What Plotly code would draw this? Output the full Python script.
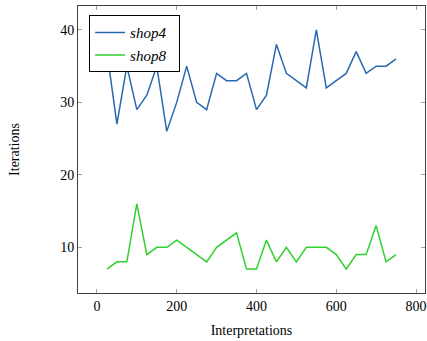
import plotly.graph_objects as go

interpretations = [25, 50, 75, 100, 125, 150, 175, 200, 225, 250, 275, 300, 325, 350, 375,
                   400, 425, 450, 475, 500, 525, 550, 575, 600, 625, 650, 675, 700, 725, 750]
shop4 = [37, 27, 35, 29, 31, 35, 26, 30, 35, 30, 29, 34, 33, 33, 34,
         29, 31, 38, 34, 33, 32, 40, 32, 33, 34, 37, 34, 35, 35, 36]
shop8 = [7, 8, 8, 16, 9, 10, 10, 11, 10, 9, 8, 10, 11, 12, 7,
         7, 11, 8, 10, 8, 10, 10, 10, 9, 7, 9, 9, 13, 8, 9]
x_ticks = [0, 200, 400, 600, 800]
y_ticks = [10, 20, 30, 40]

font = "Liberation Serif, DejaVu Serif, serif"

fig = go.Figure()
fig.add_trace(go.Scatter(x=interpretations, y=shop4, mode="lines", name="<i>shop4</i>&nbsp;&nbsp;",
                         line=dict(color="#2a68b0", width=1.5)))
fig.add_trace(go.Scatter(x=interpretations, y=shop8, mode="lines", name="<i>shop8</i>&nbsp;&nbsp;",
                         line=dict(color="#2ed12e", width=1.5)))

axis_common = dict(showgrid=False, zeroline=False, showline=True, linecolor="#404040",
                   linewidth=1, mirror="ticks", ticks="inside", ticklen=4,
                   tickcolor="#a0a0a0", tickfont=dict(family=font, size=14, color="black"))

fig.update_layout(
    width=427, height=341,
    margin=dict(l=78, r=2, t=6, b=48),
    plot_bgcolor="white", paper_bgcolor="white",
    font=dict(family=font, size=14, color="black"),
    xaxis=dict(range=[-47.5, 822.5], tickvals=x_ticks, automargin=False,
               title=dict(text="Interpretations", font=dict(family=font, size=14), standoff=12),
               **axis_common),
    yaxis=dict(range=[3.7, 43.3], tickvals=y_ticks, automargin=False,
               title=dict(text="Iterations", font=dict(family=font, size=14), standoff=37),
               **axis_common),
    legend=dict(x=0.032, y=0.968, xanchor="left", yanchor="top",
                bordercolor="black", borderwidth=1, bgcolor="white",
                font=dict(family=font, size=15), tracegroupgap=0),
    showlegend=True,
)

fig.write_html("out.html", config={"displayModeBar": False},
               post_script="document.body.style.margin='0';")
